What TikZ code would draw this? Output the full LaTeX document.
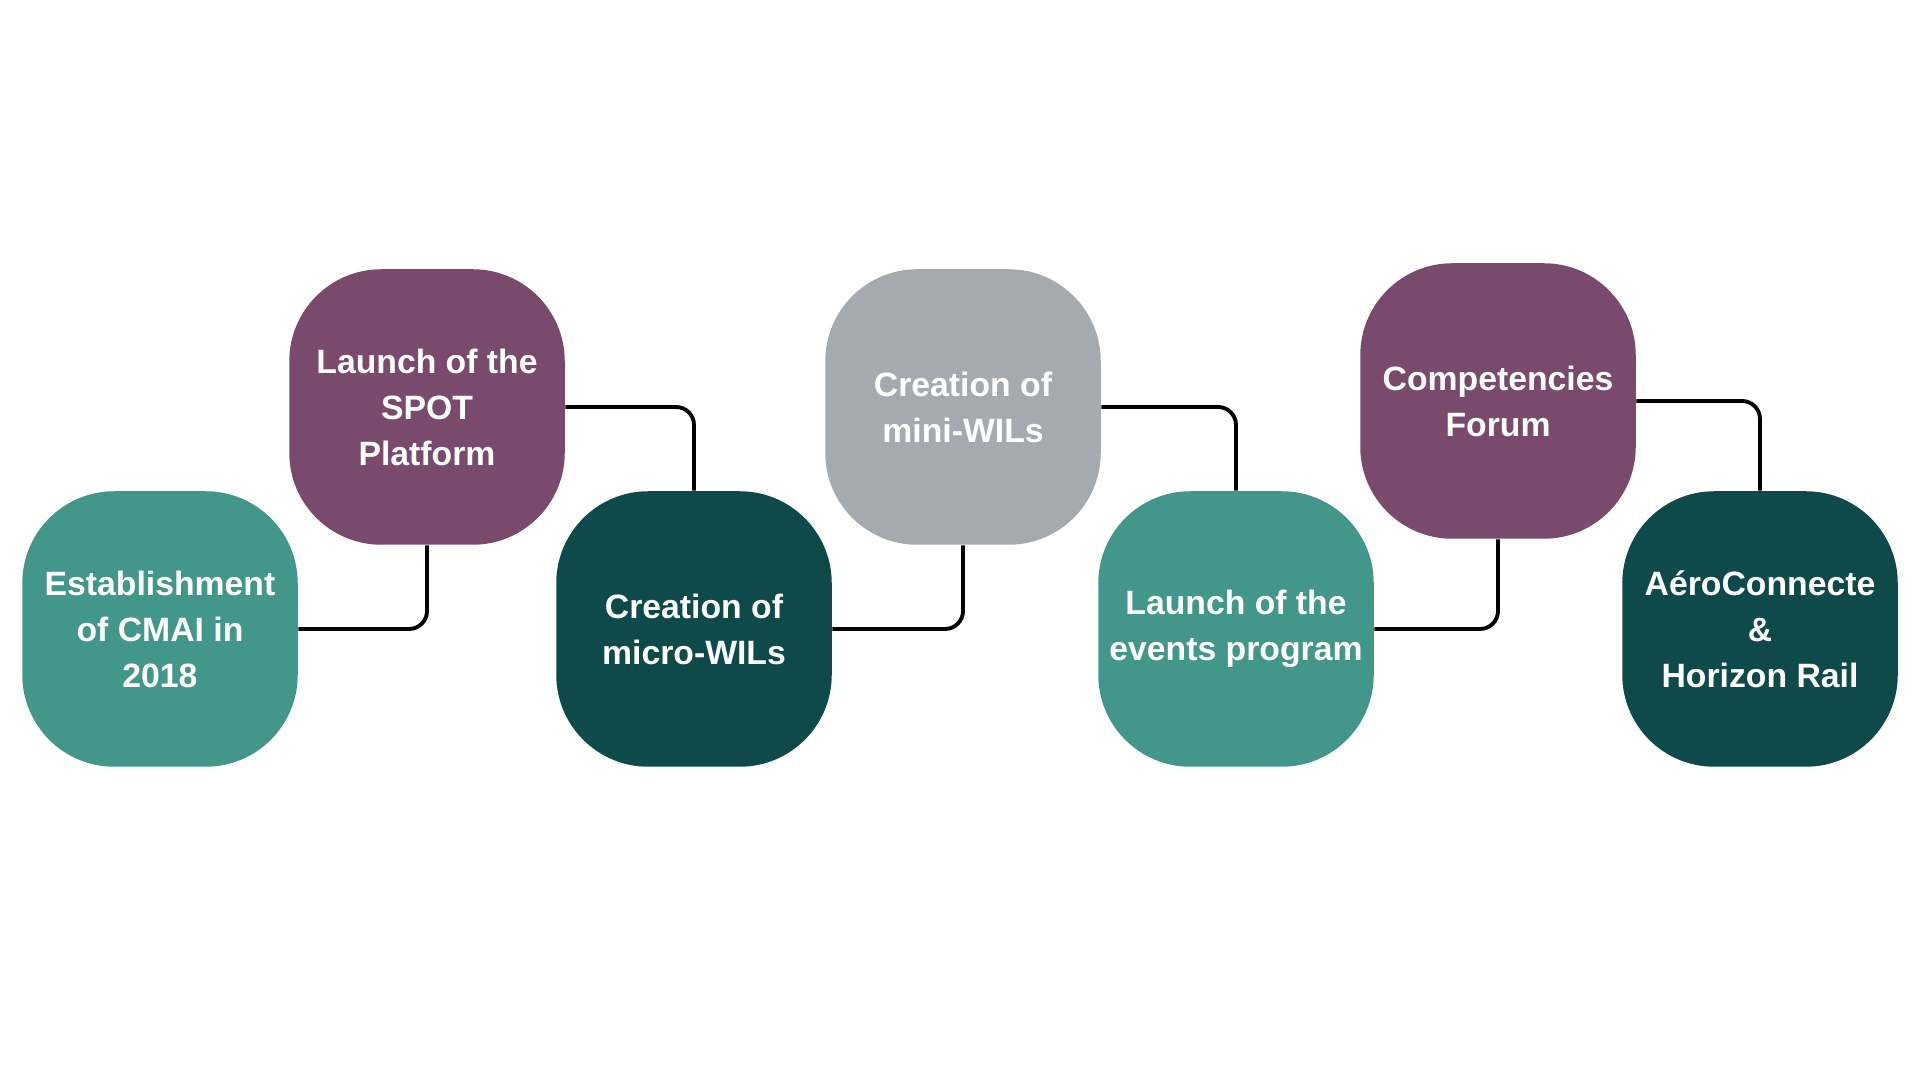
\documentclass[tikz,border=0pt]{standalone}
\usepackage{fontspec}
\setsansfont{Liberation Sans}
\usepackage{tikz}
\usetikzlibrary{arrows, arrows.meta}
\definecolor{tealgreen}{RGB}{66,151,138}
\definecolor{darkteal}{RGB}{15,74,75}
\definecolor{plum}{RGB}{121,74,107}
\definecolor{slategray}{RGB}{164,170,175}
\tikzset{milestone/.style = {shape = rectangle, rounded corners = 0.92cm, minimum width = 2.755cm, minimum height = 2.755cm, inner sep = 0pt, text = white, align = center, font = \sffamily\bfseries\fontsize{9.6}{13.1}\selectfont}}
\tikzset{link/.style = {-, line width = 1.1pt, rounded corners = 0.18cm}}

\begin{document}
\begin{tikzpicture}
				\useasboundingbox (0, 0) rectangle (19.2, 10.8);
				\node[milestone, fill = tealgreen] (a) at (1.60, 4.51) {Establishment\\of CMAI in\\2018};
				\node[milestone, fill = plum] (b) at (4.27, 6.73) {Launch of the\\SPOT\\Platform};
				\node[milestone, fill = darkteal] (c) at (6.94, 4.51) {Creation of\\micro-WILs};
				\node[milestone, fill = slategray] (d) at (9.63, 6.73) {Creation of\\mini-WILs};
				\node[milestone, fill = tealgreen] (e) at (12.36, 4.51) {Launch of the\\events program};
				\node[milestone, fill = plum] (f) at (14.98, 6.79) {Competencies\\Forum};
				\node[milestone, fill = darkteal] (g) at (17.60, 4.51) {AéroConnecte\\\&\\Horizon Rail};
	
				\draw[link] (a) -| (b);
				\draw[link] (b) -| (c);
				\draw[link] (c) -| (d);
				\draw[link] (d) -| (e);
				\draw[link] (e) -| (f);
				\draw[link] (f) -| (g);
			\end{tikzpicture}
\end{document}
